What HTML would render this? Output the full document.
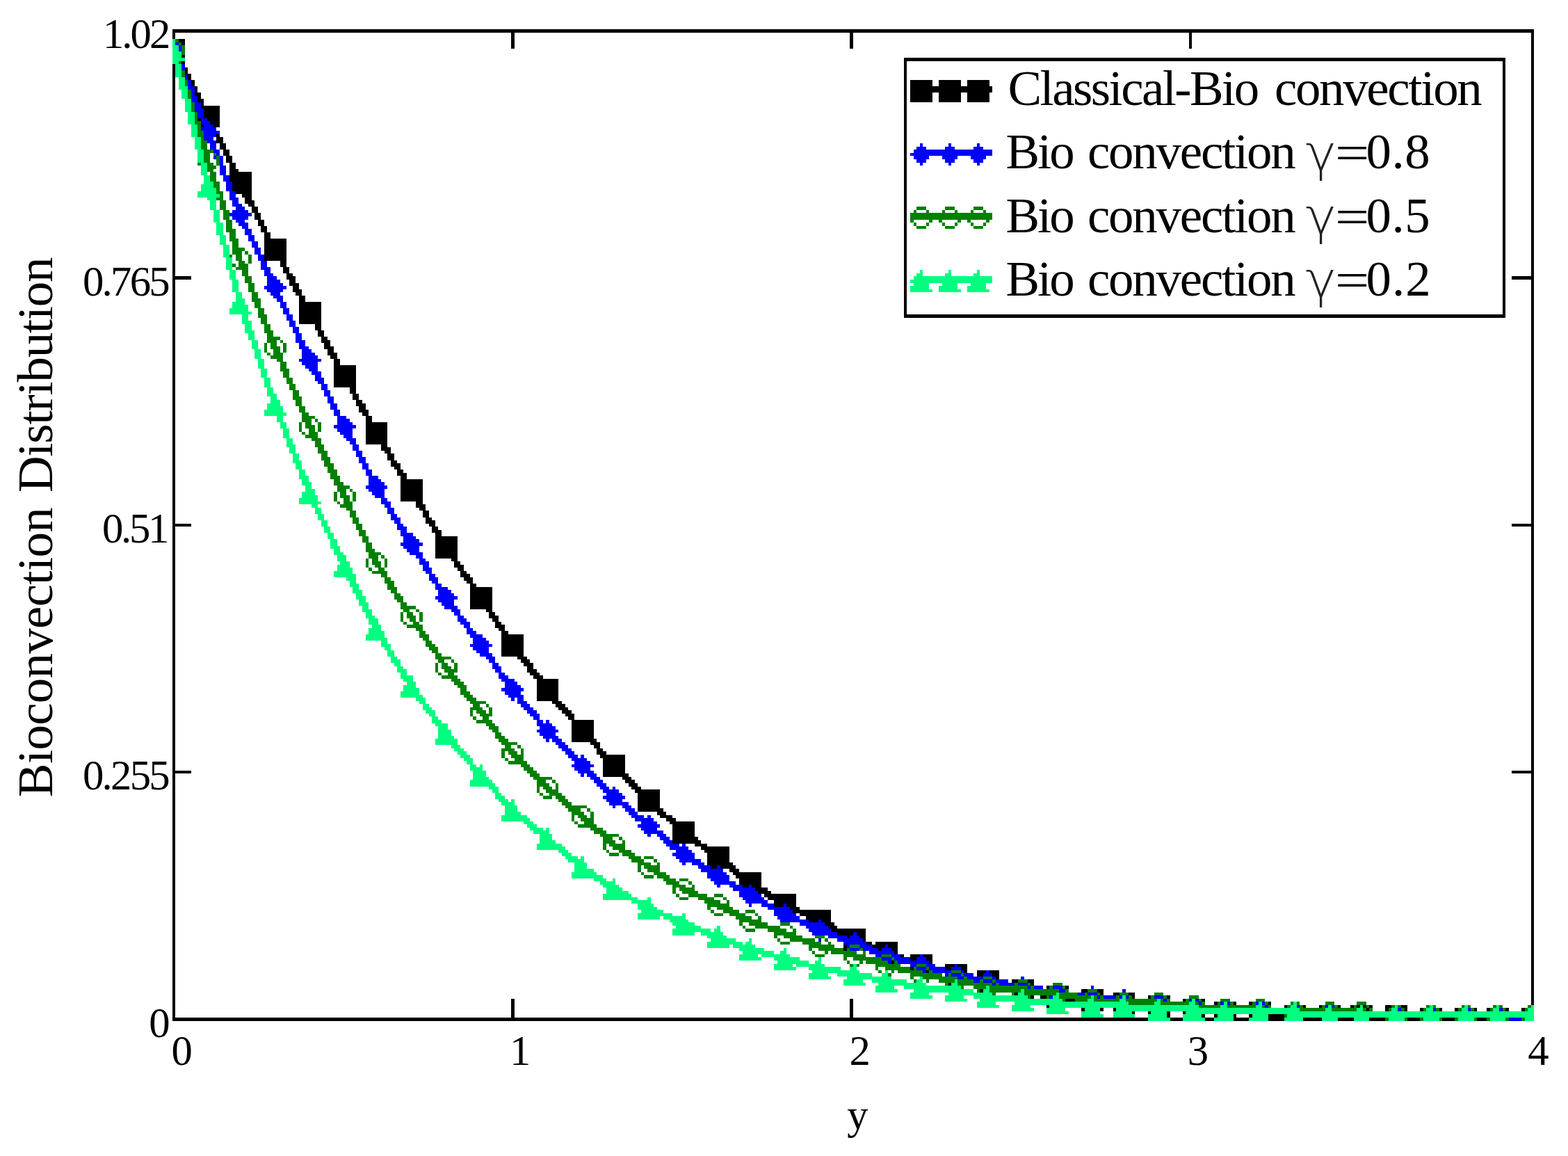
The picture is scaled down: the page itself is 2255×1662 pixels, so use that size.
<!DOCTYPE html>
<html lang="en">
<head>
<meta charset="utf-8">
<title>Bioconvection Distribution</title>
<style>
html,body{margin:0;padding:0;background:#fff;}
body{width:2255px;height:1662px;overflow:hidden;}
svg{display:block;position:absolute;left:0;top:0;}
.g path{shape-rendering:crispEdges;stroke:none;}
text{font-family:"Liberation Serif","DejaVu Serif",serif;fill:#000;white-space:pre;}
.sym{font-family:"DejaVu Sans Light","DejaVu Sans",sans-serif;font-weight:200;fill:#222;}
</style>
</head>
<body>
<svg width="2255" height="1662" viewBox="0 0 2255 1662">
<rect x="0" y="0" width="2255" height="1662" fill="#ffffff"/>
<g class="g">
<path fill="#000000" d="M248 42h1958v5h-1958zM248 47h4v9h-4zM257 56h9v5h-9zM261 61h5v4h-5zM735 47h5v23h-5zM1222 47h5v23h-5zM1710 47h4v23h-4zM261 79h5v4h-5zM1300 83h865v5h-865zM261 88h5v4h-5zM266 97h4v9h-4zM270 106h5v9h-5zM275 115h5v9h-5zM1309 115h32v9h-32zM1350 115h32v9h-32zM1391 115h32v9h-32zM280 124h4v9h-4zM1309 124h118v9h-118zM280 133h9v5h-9zM284 138h5v4h-5zM284 142h9v5h-9zM1309 133h32v14h-32zM1350 133h32v14h-32zM1391 133h32v14h-32zM289 147h4v5h-4zM289 152h27v4h-27zM293 156h23v14h-23zM284 170h5v4h-5zM298 170h18v4h-18zM302 174h14v5h-14zM289 179h4v4h-4zM307 179h9v4h-9zM311 193h5v4h-5zM311 197h10v9h-10zM316 206h9v9h-9zM321 215h9v9h-9zM325 224h9v10h-9zM330 234h9v9h-9zM330 243h13v4h-13zM330 247h32v14h-32zM334 261h28v14h-28zM339 275h23v4h-23zM348 279h14v5h-14zM352 284h10v4h-10zM352 288h14v5h-14zM357 293h9v4h-9zM362 297h9v9h-9zM366 306h9v10h-9zM371 316h9v9h-9zM375 325h9v9h-9zM380 334h9v9h-9zM380 343h32v32h-32zM403 375h9v9h-9zM407 384h9v9h-9zM248 92h4v305h-4zM412 393h9v4h-9zM2202 47h4v350h-4zM248 397h27v5h-27zM412 397h13v5h-13zM2174 397h32v5h-32zM416 402h9v5h-9zM416 407h14v4h-14zM421 411h9v5h-9zM421 416h13v4h-13zM425 420h9v5h-9zM430 425h9v9h-9zM1300 88h4v364h-4zM2161 88h4v364h-4zM1300 452h865v5h-865zM430 434h32v32h-32zM453 466h9v9h-9zM457 475h9v9h-9zM462 484h9v5h-9zM462 489h13v4h-13zM466 493h9v5h-9zM466 498h14v4h-14zM471 502h9v5h-9zM471 507h14v4h-14zM475 511h10v5h-10zM480 516h9v9h-9zM480 525h32v32h-32zM503 557h9v9h-9zM507 566h9v9h-9zM512 575h9v5h-9zM512 580h14v4h-14zM516 584h10v5h-10zM516 589h14v4h-14zM521 593h9v5h-9zM526 598h9v9h-9zM526 607h31v32h-31zM548 639h9v4h-9zM548 643h14v5h-14zM553 648h9v4h-9zM557 652h10v10h-10zM562 662h9v4h-9zM562 666h14v5h-14zM567 671h9v4h-9zM571 675h9v5h-9zM571 680h14v4h-14zM576 684h9v5h-9zM576 689h32v32h-32zM598 721h10v4h-10zM598 725h14v5h-14zM603 730h9v4h-9zM608 734h9v10h-9zM612 744h9v4h-9zM248 402h4v351h-4zM612 748h14v5h-14zM2202 402h4v351h-4zM248 753h27v4h-27zM617 753h9v4h-9zM2174 753h32v4h-32zM621 757h9v5h-9zM621 762h14v4h-14zM626 766h9v5h-9zM626 771h32v32h-32zM649 803h9v4h-9zM653 807h9v5h-9zM653 812h14v4h-14zM658 816h9v5h-9zM662 821h9v4h-9zM662 825h14v5h-14zM667 830h13v5h-13zM671 835h9v4h-9zM676 839h9v5h-9zM676 844h32v32h-32zM699 876h9v4h-9zM703 880h9v5h-9zM703 885h14v4h-14zM708 889h9v5h-9zM712 894h9v4h-9zM712 898h14v5h-14zM717 903h9v4h-9zM721 907h10v5h-10zM721 912h32v32h-32zM744 944h14v4h-14zM749 948h13v5h-13zM753 953h14v5h-14zM758 958h9v4h-9zM758 962h14v5h-14zM762 967h14v4h-14zM767 971h14v5h-14zM772 976h31v32h-31zM794 1008h14v4h-14zM799 1012h14v5h-14zM803 1017h14v4h-14zM808 1021h14v5h-14zM813 1026h13v4h-13zM817 1030h9v5h-9zM822 1035h32v27h-32zM822 1062h36v5h-36zM849 1067h14v4h-14zM854 1071h9v5h-9zM858 1076h9v4h-9zM858 1080h14v5h-14zM863 1085h36v5h-36zM248 757h4v351h-4zM2202 757h4v351h-4zM248 1108h27v4h-27zM867 1090h32v22h-32zM2174 1108h32v4h-32zM867 1112h37v5h-37zM895 1117h13v4h-13zM899 1121h14v5h-14zM904 1126h13v5h-13zM908 1131h14v4h-14zM913 1135h36v5h-36zM917 1140h32v22h-32zM917 1162h37v5h-37zM945 1167h13v5h-13zM949 1172h18v4h-18zM958 1176h14v5h-14zM963 1181h36v4h-36zM967 1185h32v18h-32zM967 1203h37v5h-37zM967 1208h41v5h-41zM999 1213h18v4h-18zM1008 1217h41v5h-41zM1013 1222h36v4h-36zM1017 1226h32v14h-32zM1017 1240h37v4h-37zM1022 1244h9v5h-9zM1036 1244h22v5h-22zM1049 1249h14v5h-14zM1054 1254h41v4h-41zM1058 1258h37v5h-37zM1063 1263h32v9h-32zM1068 1272h9v4h-9zM1081 1272h14v4h-14zM1086 1276h18v5h-18zM1090 1281h19v4h-19zM1099 1285h46v5h-46zM1104 1290h41v4h-41zM1113 1294h32v5h-32zM1113 1299h14v5h-14zM1131 1299h14v5h-14zM1136 1304h14v4h-14zM1140 1308h55v5h-55zM1150 1313h45v4h-45zM1159 1317h36v5h-36zM1163 1322h14v4h-14zM1181 1322h14v4h-14zM1186 1326h14v5h-14zM1191 1331h13v4h-13zM1195 1335h50v5h-50zM1204 1340h23v5h-23zM1232 1340h13v5h-13zM1218 1345h4v4h-4zM1236 1345h9v4h-9zM1241 1349h4v5h-4zM1245 1354h9v4h-9zM1259 1354h32v4h-32zM1254 1358h19v5h-19zM1277 1358h14v5h-14zM1213 1358h5v9h-5zM1263 1363h5v4h-5zM1282 1363h9v4h-9zM1286 1367h5v5h-5zM1295 1372h5v4h-5zM1309 1372h14v4h-14zM1327 1372h14v4h-14zM1309 1376h9v5h-9zM1332 1376h9v5h-9zM1282 1381h4v5h-4zM1336 1381h5v5h-5zM1359 1386h14v4h-14zM1377 1386h14v4h-14zM1309 1390h5v5h-5zM1359 1390h9v5h-9zM1382 1390h9v5h-9zM1332 1395h4v4h-4zM1386 1395h5v4h-5zM1405 1395h13v4h-13zM1423 1395h14v4h-14zM1405 1399h9v5h-9zM1427 1399h10v5h-10zM1432 1404h5v4h-5zM1455 1408h9v5h-9zM1478 1408h9v5h-9zM1364 1413h4v4h-4zM1482 1413h5v4h-5zM1505 1417h4v5h-4zM1532 1417h5v5h-5zM1409 1422h5v5h-5zM1555 1422h9v5h-9zM1578 1422h9v5h-9zM1459 1427h5v4h-5zM1582 1427h5v4h-5zM1601 1427h9v4h-9zM1623 1427h9v4h-9zM1482 1431h5v5h-5zM1496 1431h9v5h-9zM1628 1431h4v5h-4zM1651 1431h4v5h-4zM1678 1431h5v5h-5zM1532 1436h14v4h-14zM1701 1436h4v4h-4zM1728 1436h5v4h-5zM1746 1440h5v5h-5zM1774 1440h4v5h-4zM1796 1440h5v5h-5zM1824 1440h4v5h-4zM2202 1112h4v333h-4zM1505 1445h4v4h-4zM1847 1445h4v4h-4zM1874 1445h4v4h-4zM1897 1445h4v4h-4zM1924 1445h4v4h-4zM1942 1445h5v4h-5zM1951 1445h5v4h-5zM1960 1445h5v4h-5zM1969 1445h5v4h-5zM1992 1445h9v4h-9zM2015 1445h9v4h-9zM1555 1449h5v5h-5zM1582 1449h5v5h-5zM1601 1449h4v5h-4zM1965 1449h4v5h-4zM1992 1449h5v5h-5zM2020 1449h4v5h-4zM2042 1449h5v5h-5zM2070 1449h4v5h-4zM2092 1449h5v5h-5zM2120 1449h4v5h-4zM2138 1449h5v5h-5zM2165 1449h5v5h-5zM2188 1449h5v5h-5zM1628 1454h4v4h-4zM1651 1454h4v4h-4zM1701 1454h4v4h-4zM248 1112h4v351h-4zM735 1436h5v27h-5zM1222 1436h5v27h-5zM1678 1454h5v9h-5zM1728 1458h5v5h-5zM1746 1458h5v5h-5zM1774 1458h4v5h-4zM1796 1458h5v5h-5zM248 1463h1403v5h-1403zM1683 1463h18v5h-18zM1733 1463h13v5h-13zM1774 1463h22v5h-22zM1824 1458h23v10h-23zM1874 1463h27v5h-27zM1924 1463h23v5h-23zM1969 1463h23v5h-23zM2024 1463h18v5h-18zM2074 1463h18v5h-18zM2124 1463h14v5h-14z"/>
<path fill="#0000ff" d="M252 61h5v4h-5zM257 65h4v9h-4zM261 92h5v9h-5zM266 106h4v9h-4zM270 115h5v9h-5zM270 124h10v5h-10zM275 129h5v9h-5zM275 138h9v9h-9zM280 147h9v9h-9zM280 156h13v5h-13zM284 161h9v9h-9zM289 170h9v4h-9zM289 174h13v5h-13zM293 179h14v4h-14zM289 183h22v5h-22zM293 188h23v5h-23zM293 193h18v4h-18zM293 197h14v5h-14zM298 202h13v4h-13zM1323 206h4v5h-4zM1364 206h4v5h-4zM1405 206h4v5h-4zM302 206h9v9h-9zM1318 211h14v4h-14zM1359 211h14v4h-14zM1400 211h14v4h-14zM307 215h9v5h-9zM1314 215h113v5h-113zM311 220h5v4h-5zM1309 220h118v4h-118zM307 224h4v5h-4zM1314 224h22v5h-22zM1355 224h22v5h-22zM1396 224h22v5h-22zM1318 229h14v5h-14zM1359 229h14v5h-14zM1400 229h14v5h-14zM316 224h5v14h-5zM1323 234h4v4h-4zM1364 234h4v4h-4zM1405 234h4v4h-4zM316 238h9v14h-9zM321 252h9v9h-9zM325 261h9v14h-9zM330 275h9v9h-9zM330 284h13v4h-13zM334 288h9v5h-9zM334 293h14v4h-14zM339 297h13v5h-13zM334 302h23v4h-23zM330 306h32v5h-32zM334 311h23v5h-23zM339 316h13v4h-13zM343 320h14v5h-14zM348 325h9v4h-9zM352 329h10v9h-10zM357 338h9v9h-9zM362 347h9v9h-9zM366 356h9v10h-9zM371 366h9v9h-9zM375 375h9v9h-9zM375 384h14v4h-14zM380 388h9v5h-9zM380 393h13v4h-13zM384 397h14v5h-14zM384 402h19v5h-19zM384 407h23v4h-23zM380 411h32v5h-32zM384 416h23v4h-23zM389 420h14v5h-14zM393 425h14v4h-14zM398 429h9v5h-9zM403 434h9v9h-9zM407 443h9v9h-9zM412 452h9v9h-9zM416 461h9v9h-9zM421 470h9v9h-9zM425 479h9v10h-9zM425 489h14v4h-14zM430 493h9v5h-9zM430 498h14v4h-14zM434 502h14v5h-14zM434 507h19v4h-19zM434 511h23v5h-23zM430 516h32v4h-32zM434 520h23v5h-23zM439 525h18v5h-18zM444 530h13v4h-13zM448 534h14v5h-14zM453 539h9v4h-9zM453 543h13v5h-13zM457 548h9v4h-9zM462 552h9v9h-9zM466 561h9v9h-9zM471 570h9v10h-9zM475 580h10v9h-10zM480 589h9v9h-9zM485 598h13v4h-13zM485 602h18v5h-18zM485 607h22v4h-22zM480 611h32v5h-32zM485 616h22v5h-22zM489 621h18v4h-18zM494 625h13v5h-13zM498 630h14v4h-14zM503 634h9v5h-9zM507 639h9v9h-9zM512 648h9v9h-9zM516 657h10v9h-10zM521 666h9v9h-9zM526 675h9v9h-9zM530 684h14v5h-14zM530 689h18v4h-18zM530 693h23v5h-23zM526 698h31v5h-31zM530 703h23v4h-23zM535 707h18v5h-18zM539 712h14v4h-14zM548 716h9v5h-9zM548 721h14v4h-14zM553 725h9v5h-9zM557 730h10v9h-10zM562 739h9v5h-9zM562 744h14v4h-14zM567 748h9v5h-9zM571 753h9v4h-9zM571 757h14v5h-14zM576 762h9v4h-9zM576 766h18v5h-18zM580 771h18v4h-18zM580 775h23v5h-23zM576 780h32v5h-32zM580 785h23v4h-23zM585 789h18v5h-18zM589 794h19v4h-19zM598 798h10v5h-10zM603 803h9v4h-9zM603 807h14v5h-14zM608 812h9v4h-9zM608 816h13v5h-13zM612 821h9v4h-9zM617 825h9v5h-9zM617 830h13v5h-13zM621 835h9v4h-9zM626 839h9v5h-9zM626 844h18v4h-18zM630 848h19v5h-19zM630 853h23v4h-23zM626 857h32v5h-32zM630 862h23v4h-23zM635 866h18v5h-18zM639 871h19v5h-19zM649 876h13v4h-13zM653 880h9v5h-9zM658 885h9v4h-9zM658 889h13v5h-13zM662 894h14v4h-14zM667 898h9v5h-9zM671 903h9v4h-9zM671 907h14v5h-14zM676 912h18v5h-18zM680 917h19v4h-19zM680 921h23v5h-23zM676 926h32v4h-32zM680 930h23v5h-23zM685 935h18v4h-18zM690 939h18v5h-18zM699 944h13v4h-13zM703 948h9v5h-9zM708 953h9v5h-9zM708 958h13v4h-13zM712 962h9v5h-9zM717 967h9v4h-9zM717 971h14v5h-14zM721 976h19v4h-19zM726 980h18v5h-18zM726 985h23v4h-23zM721 989h32v5h-32zM726 994h23v5h-23zM731 999h22v4h-22zM735 1003h5v5h-5zM744 1003h9v5h-9zM744 1008h14v4h-14zM749 1012h13v5h-13zM753 1017h14v4h-14zM758 1021h14v5h-14zM762 1026h14v4h-14zM767 1030h9v5h-9zM772 1035h9v5h-9zM785 1035h5v5h-5zM772 1040h22v4h-22zM776 1044h23v5h-23zM772 1049h31v4h-31zM776 1053h23v5h-23zM781 1058h22v4h-22zM785 1062h5v5h-5zM794 1062h14v5h-14zM799 1067h14v4h-14zM803 1071h14v5h-14zM808 1076h14v4h-14zM813 1080h13v5h-13zM817 1085h14v5h-14zM835 1085h5v5h-5zM822 1090h22v4h-22zM826 1094h23v5h-23zM822 1099h32v4h-32zM826 1103h23v5h-23zM831 1108h23v4h-23zM835 1112h5v5h-5zM844 1112h14v5h-14zM849 1117h14v4h-14zM854 1121h13v5h-13zM858 1126h14v5h-14zM863 1131h13v4h-13zM881 1131h4v4h-4zM867 1135h23v5h-23zM872 1140h23v4h-23zM867 1144h32v5h-32zM872 1149h23v4h-23zM876 1153h28v5h-28zM881 1158h4v4h-4zM895 1158h13v4h-13zM899 1162h14v5h-14zM904 1167h13v5h-13zM908 1172h18v4h-18zM931 1172h5v4h-5zM913 1176h27v5h-27zM922 1181h23v4h-23zM917 1185h32v5h-32zM922 1190h23v4h-23zM926 1194h28v5h-28zM931 1199h5v4h-5zM945 1199h13v4h-13zM949 1203h14v5h-14zM954 1208h13v5h-13zM958 1213h19v4h-19zM981 1213h5v4h-5zM963 1217h27v5h-27zM972 1222h23v4h-23zM967 1226h32v5h-32zM972 1231h27v4h-27zM977 1235h31v5h-31zM981 1240h5v4h-5zM995 1240h18v4h-18zM1004 1244h18v5h-18zM1031 1244h5v5h-5zM1008 1249h32v5h-32zM1017 1254h28v4h-28zM1017 1258h32v5h-32zM1022 1263h27v4h-27zM1027 1267h31v5h-31zM1031 1272h5v4h-5zM1049 1272h19v4h-19zM1077 1272h4v4h-4zM1054 1276h32v5h-32zM1063 1281h27v4h-27zM1063 1285h32v5h-32zM1068 1290h31v4h-31zM1072 1294h32v5h-32zM1077 1299h4v5h-4zM1095 1299h18v5h-18zM1127 1299h4v5h-4zM1104 1304h32v4h-32zM1113 1308h27v5h-27zM1113 1313h32v4h-32zM1118 1317h32v5h-32zM1122 1322h41v4h-41zM1177 1322h4v4h-4zM1150 1326h36v5h-36zM1159 1331h32v4h-32zM1163 1335h32v5h-32zM1168 1340h36v5h-36zM1227 1340h5v5h-5zM1191 1345h27v4h-27zM1222 1345h14v4h-14zM1177 1349h4v5h-4zM1204 1349h37v5h-37zM1213 1354h32v4h-32zM1218 1358h4v5h-4zM1236 1358h18v5h-18zM1273 1358h4v5h-4zM1222 1363h14v4h-14zM1241 1363h22v4h-22zM1268 1363h14v4h-14zM1250 1367h36v5h-36zM1259 1372h9v4h-9zM1282 1372h13v4h-13zM1323 1372h4v4h-4zM1268 1376h14v5h-14zM1286 1376h23v5h-23zM1318 1376h14v5h-14zM1277 1381h5v5h-5zM1291 1381h45v5h-45zM1309 1386h9v4h-9zM1332 1386h13v4h-13zM1373 1386h4v4h-4zM1318 1390h14v5h-14zM1336 1390h23v5h-23zM1368 1390h14v5h-14zM1327 1395h5v4h-5zM1341 1395h27v4h-27zM1382 1395h4v4h-4zM1418 1395h5v4h-5zM1359 1399h5v5h-5zM1368 1399h14v5h-14zM1386 1399h14v5h-14zM1414 1399h13v5h-13zM1377 1404h9v4h-9zM1391 1404h23v4h-23zM1427 1404h5v4h-5zM1468 1404h5v4h-5zM1400 1408h9v5h-9zM1414 1408h13v5h-13zM1432 1408h18v5h-18zM1427 1413h5v4h-5zM1437 1413h22v4h-22zM1464 1413h14v4h-14zM1478 1417h4v5h-4zM1487 1417h13v5h-13zM1514 1417h14v5h-14zM1569 1417h4v5h-4zM1523 1422h9v5h-9zM1614 1422h5v5h-5zM1550 1427h10v4h-10zM1564 1427h14v4h-14zM1509 1431h5v5h-5zM1578 1431h4v5h-4zM1587 1431h18v5h-18zM1610 1431h4v5h-4zM1619 1431h4v5h-4zM1660 1431h13v5h-13zM1673 1436h5v4h-5zM1710 1436h4v4h-4zM1719 1436h5v4h-5zM1724 1440h4v5h-4zM1755 1440h5v5h-5zM1765 1440h4v5h-4zM1806 1440h4v5h-4zM1815 1440h4v5h-4zM1819 1445h5v4h-5zM1865 1445h4v4h-4zM1906 1445h4v4h-4zM1915 1445h4v4h-4zM2010 1449h5v5h-5zM2061 1449h4v5h-4zM2111 1449h4v5h-4zM2156 1449h5v5h-5zM2170 1463h18v5h-18z"/>
<path fill="#008000" d="M252 56h5v5h-5zM257 61h4v4h-4zM261 65h5v14h-5zM257 88h4v4h-4zM261 101h5v10h-5zM266 115h4v9h-4zM270 129h5v13h-5zM275 147h5v14h-5zM280 161h4v13h-4zM280 174h9v5h-9zM284 179h5v9h-5zM284 188h9v9h-9zM289 197h4v5h-4zM289 202h9v13h-9zM293 215h14v5h-14zM307 220h4v4h-4zM293 220h9v14h-9zM284 234h5v4h-5zM298 234h9v4h-9zM311 224h5v14h-5zM298 238h13v5h-13zM298 243h9v4h-9zM302 247h9v14h-9zM307 261h9v9h-9zM311 270h5v5h-5zM311 275h10v4h-10zM316 279h5v5h-5zM311 284h10v4h-10zM316 288h9v14h-9zM1318 297h14v5h-14zM1359 297h14v5h-14zM1400 297h14v5h-14zM1314 302h4v4h-4zM1332 302h4v4h-4zM1355 302h4v4h-4zM1373 302h4v4h-4zM1396 302h4v4h-4zM1414 302h4v4h-4zM321 302h9v14h-9zM1309 306h118v10h-118zM1309 316h5v4h-5zM1336 316h5v4h-5zM1350 316h5v4h-5zM1377 316h5v4h-5zM1391 316h5v4h-5zM1418 316h5v4h-5zM1314 320h4v5h-4zM1332 320h4v5h-4zM1355 320h4v5h-4zM1373 320h4v5h-4zM1396 320h4v5h-4zM1414 320h4v5h-4zM325 316h9v13h-9zM1318 325h14v4h-14zM1359 325h14v4h-14zM1400 325h14v4h-14zM325 329h14v5h-14zM330 334h9v9h-9zM330 343h13v4h-13zM334 347h9v9h-9zM334 356h18v5h-18zM334 361h14v5h-14zM352 361h5v5h-5zM330 366h4v4h-4zM339 366h9v9h-9zM343 375h9v4h-9zM357 366h5v13h-5zM334 379h5v5h-5zM343 379h14v5h-14zM339 384h18v4h-18zM348 388h9v9h-9zM352 397h10v10h-10zM357 407h9v13h-9zM362 420h9v9h-9zM362 429h13v5h-13zM366 434h9v9h-9zM371 443h9v9h-9zM371 452h13v5h-13zM375 457h9v9h-9zM380 466h9v9h-9zM380 475h13v4h-13zM384 479h9v5h-9zM384 484h19v5h-19zM384 489h14v4h-14zM403 489h4v4h-4zM389 493h9v5h-9zM389 498h14v4h-14zM380 493h4v14h-4zM393 502h10v5h-10zM407 493h5v14h-5zM384 507h5v4h-5zM393 507h14v4h-14zM389 511h18v5h-18zM398 516h9v4h-9zM403 520h9v10h-9zM403 530h13v4h-13zM407 534h9v9h-9zM412 543h9v9h-9zM416 552h9v9h-9zM421 561h9v9h-9zM421 570h13v5h-13zM425 575h9v9h-9zM430 584h9v9h-9zM434 593h10v5h-10zM434 598h19v4h-19zM434 602h14v5h-14zM453 602h4v5h-4zM439 607h9v4h-9zM439 611h14v5h-14zM430 607h4v14h-4zM444 616h9v5h-9zM457 607h5v14h-5zM434 621h5v4h-5zM444 621h13v4h-13zM439 625h18v5h-18zM448 630h14v4h-14zM453 634h9v5h-9zM453 639h13v4h-13zM457 643h9v5h-9zM457 648h14v4h-14zM462 652h9v5h-9zM462 657h13v5h-13zM466 662h9v4h-9zM466 666h14v5h-14zM471 671h9v4h-9zM471 675h14v5h-14zM475 680h10v4h-10zM475 684h14v5h-14zM480 689h9v4h-9zM480 693h14v5h-14zM485 698h18v5h-18zM485 703h13v4h-13zM503 703h4v4h-4zM489 707h9v5h-9zM489 712h14v4h-14zM480 707h5v14h-5zM494 716h9v5h-9zM507 707h5v14h-5zM485 721h4v4h-4zM494 721h13v4h-13zM489 725h18v5h-18zM498 730h9v4h-9zM503 734h9v10h-9zM507 744h9v9h-9zM512 753h9v9h-9zM516 762h10v9h-10zM521 771h9v9h-9zM526 780h9v9h-9zM526 789h13v5h-13zM530 794h18v4h-18zM530 798h14v5h-14zM548 798h5v5h-5zM535 803h9v4h-9zM535 807h13v5h-13zM526 803h4v13h-4zM539 812h9v4h-9zM553 803h4v13h-4zM530 816h5v5h-5zM544 816h9v5h-9zM535 821h22v4h-22zM548 825h9v5h-9zM553 830h9v5h-9zM553 835h14v4h-14zM557 839h10v5h-10zM557 844h14v4h-14zM562 848h9v5h-9zM567 853h9v4h-9zM567 857h13v5h-13zM571 862h9v4h-9zM576 866h9v5h-9zM576 871h22v5h-22zM580 876h9v4h-9zM598 876h5v4h-5zM585 880h9v5h-9zM585 885h13v4h-13zM576 880h4v14h-4zM589 889h9v5h-9zM603 880h5v14h-5zM580 894h5v4h-5zM594 894h9v4h-9zM585 898h23v5h-23zM598 903h10v4h-10zM603 907h9v5h-9zM603 912h14v5h-14zM608 917h9v4h-9zM612 921h9v5h-9zM612 926h14v4h-14zM617 930h13v5h-13zM621 935h9v4h-9zM626 939h9v5h-9zM626 944h23v4h-23zM630 948h9v5h-9zM649 948h4v5h-4zM635 953h9v5h-9zM635 958h14v4h-14zM653 953h5v9h-5zM626 953h4v14h-4zM639 962h19v5h-19zM630 967h5v4h-5zM644 967h9v4h-9zM635 971h23v5h-23zM649 976h13v4h-13zM653 980h14v5h-14zM658 985h13v4h-13zM662 989h9v5h-9zM662 994h14v5h-14zM667 999h13v4h-13zM671 1003h14v5h-14zM676 1008h23v4h-23zM680 1012h10v5h-10zM699 1012h4v5h-4zM676 1017h18v4h-18zM685 1021h14v5h-14zM703 1017h5v9h-5zM676 1021h4v9h-4zM690 1026h18v4h-18zM680 1030h5v5h-5zM694 1030h9v5h-9zM685 1035h23v5h-23zM699 1040h13v4h-13zM703 1044h14v5h-14zM708 1049h9v4h-9zM712 1053h9v5h-9zM712 1058h14v4h-14zM717 1062h14v5h-14zM721 1067h23v4h-23zM726 1071h9v5h-9zM744 1071h5v5h-5zM721 1076h19v4h-19zM731 1080h13v5h-13zM749 1076h4v9h-4zM721 1080h5v10h-5zM735 1085h18v5h-18zM726 1090h5v4h-5zM740 1090h13v4h-13zM731 1094h27v5h-27zM749 1099h13v4h-13zM753 1103h14v5h-14zM758 1108h14v4h-14zM762 1112h14v5h-14zM767 1117h27v4h-27zM772 1121h13v5h-13zM794 1121h5v5h-5zM772 1126h18v5h-18zM781 1131h13v4h-13zM799 1126h4v9h-4zM772 1131h4v9h-4zM785 1135h18v5h-18zM776 1140h5v4h-5zM790 1140h18v4h-18zM781 1144h13v5h-13zM799 1144h14v5h-14zM803 1149h14v4h-14zM808 1153h14v5h-14zM813 1158h31v4h-31zM817 1162h18v5h-18zM844 1162h5v5h-5zM822 1167h18v5h-18zM831 1172h13v4h-13zM849 1167h5v9h-5zM822 1172h4v9h-4zM835 1176h19v5h-19zM826 1181h5v4h-5zM840 1181h14v4h-14zM831 1185h27v5h-27zM849 1190h18v4h-18zM854 1194h18v5h-18zM863 1199h27v4h-27zM867 1203h14v5h-14zM890 1203h5v5h-5zM867 1208h18v5h-18zM895 1208h4v5h-4zM876 1213h23v4h-23zM867 1213h5v9h-5zM881 1217h18v5h-18zM872 1222h4v4h-4zM890 1222h18v4h-18zM876 1226h14v5h-14zM895 1226h18v5h-18zM904 1231h18v4h-18zM926 1231h14v4h-14zM908 1235h18v5h-18zM940 1235h5v5h-5zM917 1240h19v4h-19zM945 1240h4v4h-4zM926 1244h23v5h-23zM917 1244h5v10h-5zM931 1249h18v5h-18zM922 1254h4v4h-4zM940 1254h18v4h-18zM926 1258h14v5h-14zM945 1258h18v5h-18zM954 1263h18v4h-18zM977 1263h13v4h-13zM958 1267h19v5h-19zM990 1267h5v5h-5zM967 1272h19v4h-19zM995 1272h4v4h-4zM977 1276h22v5h-22zM967 1276h5v9h-5zM981 1281h23v4h-23zM972 1285h5v5h-5zM990 1285h27v5h-27zM1027 1285h13v5h-13zM977 1290h13v4h-13zM1004 1290h23v4h-23zM1040 1290h5v4h-5zM1013 1294h23v5h-23zM1045 1294h4v5h-4zM1017 1299h32v5h-32zM1017 1304h5v4h-5zM1031 1304h23v4h-23zM1022 1308h5v5h-5zM1040 1308h23v5h-23zM1072 1308h14v5h-14zM1027 1313h13v4h-13zM1049 1313h23v4h-23zM1086 1313h4v4h-4zM1058 1317h23v5h-23zM1090 1317h5v5h-5zM1063 1322h32v4h-32zM1063 1326h5v5h-5zM1077 1326h27v5h-27zM1122 1326h14v5h-14zM1068 1331h4v4h-4zM1086 1331h36v4h-36zM1136 1331h4v4h-4zM1072 1335h14v5h-14zM1104 1335h27v5h-27zM1140 1335h5v5h-5zM1113 1340h32v5h-32zM1113 1345h5v4h-5zM1127 1345h27v4h-27zM1172 1345h14v4h-14zM1118 1349h4v5h-4zM1136 1349h36v5h-36zM1186 1349h5v5h-5zM1122 1354h14v4h-14zM1154 1354h27v4h-27zM1191 1354h4v4h-4zM1163 1358h37v5h-37zM1222 1358h14v5h-14zM1163 1363h5v4h-5zM1177 1363h36v4h-36zM1218 1363h4v4h-4zM1236 1363h5v4h-5zM1168 1367h4v5h-4zM1186 1367h5v5h-5zM1195 1367h37v5h-37zM1241 1367h4v5h-4zM1172 1372h14v4h-14zM1213 1372h32v4h-32zM1268 1372h14v4h-14zM1213 1376h5v5h-5zM1227 1376h41v5h-41zM1282 1376h4v5h-4zM1218 1381h4v5h-4zM1236 1381h5v5h-5zM1245 1381h32v5h-32zM1286 1381h5v5h-5zM1222 1386h5v4h-5zM1232 1386h4v4h-4zM1259 1386h36v4h-36zM1318 1386h14v4h-14zM1259 1390h4v5h-4zM1273 1390h36v5h-36zM1314 1390h4v5h-4zM1332 1390h4v5h-4zM1263 1395h5v4h-5zM1282 1395h4v4h-4zM1291 1395h36v4h-36zM1336 1395h5v4h-5zM1368 1395h14v4h-14zM1277 1399h5v5h-5zM1309 1399h46v5h-46zM1364 1399h4v5h-4zM1382 1399h4v5h-4zM1309 1404h5v4h-5zM1327 1404h50v4h-50zM1386 1404h5v4h-5zM1414 1404h13v4h-13zM1314 1408h4v5h-4zM1332 1408h4v5h-4zM1350 1408h23v5h-23zM1377 1408h23v5h-23zM1409 1408h5v5h-5zM1427 1408h5v5h-5zM1464 1408h14v5h-14zM1359 1413h5v4h-5zM1377 1413h50v4h-50zM1432 1413h5v4h-5zM1459 1413h5v4h-5zM1478 1413h4v4h-4zM1514 1413h14v4h-14zM1382 1417h4v5h-4zM1400 1417h18v5h-18zM1423 1417h55v5h-55zM1482 1417h5v5h-5zM1509 1417h5v5h-5zM1528 1417h4v5h-4zM1405 1422h4v5h-4zM1423 1422h45v5h-45zM1473 1422h50v5h-50zM1532 1422h5v5h-5zM1564 1422h14v5h-14zM1427 1427h5v4h-5zM1455 1427h4v4h-4zM1473 1427h46v4h-46zM1523 1427h27v4h-27zM1560 1427h4v4h-4zM1578 1427h4v4h-4zM1610 1427h13v4h-13zM1660 1427h13v4h-13zM1478 1431h4v5h-4zM1505 1431h4v5h-4zM1523 1431h46v5h-46zM1573 1431h5v5h-5zM1582 1431h5v5h-5zM1605 1431h5v5h-5zM1623 1431h5v5h-5zM1655 1431h5v5h-5zM1673 1431h5v5h-5zM1710 1431h14v5h-14zM1528 1436h4v4h-4zM1546 1436h18v4h-18zM1573 1436h37v4h-37zM1619 1436h45v4h-45zM1669 1436h4v4h-4zM1678 1436h5v4h-5zM1705 1436h5v4h-5zM1724 1436h4v4h-4zM1755 1436h14v4h-14zM1806 1436h13v4h-13zM1623 1440h37v5h-37zM1669 1440h41v5h-41zM1719 1440h5v5h-5zM1728 1440h5v5h-5zM1751 1440h4v5h-4zM1769 1440h5v5h-5zM1801 1440h5v5h-5zM1819 1440h5v5h-5zM1856 1440h4v5h-4zM1865 1440h4v5h-4zM1906 1440h13v5h-13zM1951 1440h14v5h-14zM1724 1445h31v4h-31zM1765 1445h41v4h-41zM1815 1445h4v4h-4zM1824 1445h4v4h-4zM1851 1445h5v4h-5zM1869 1445h5v4h-5zM1901 1445h5v4h-5zM1919 1445h5v4h-5zM1947 1445h4v4h-4zM1965 1445h4v4h-4zM2001 1445h5v4h-5zM2010 1445h5v4h-5zM2051 1445h5v4h-5zM2061 1445h4v4h-4zM2102 1445h4v4h-4zM2111 1445h4v4h-4zM2147 1445h5v4h-5zM2156 1445h5v4h-5zM2197 1445h5v4h-5zM1869 1449h37v5h-37zM1915 1449h36v5h-36zM1960 1449h5v5h-5zM1969 1449h5v5h-5zM1997 1449h4v5h-4zM2015 1449h5v5h-5zM2047 1449h4v5h-4zM2065 1449h5v5h-5zM2097 1449h5v5h-5zM2115 1449h5v5h-5zM2143 1449h4v5h-4zM2161 1449h4v5h-4zM2193 1449h4v5h-4zM1847 1458h4v5h-4zM1992 1463h5v5h-5zM2020 1463h4v5h-4zM2042 1463h5v5h-5zM2070 1463h4v5h-4zM2092 1463h5v5h-5zM2120 1463h4v5h-4zM2138 1463h5v5h-5zM2165 1463h5v5h-5zM2188 1463h5v5h-5z"/>
<path fill="#00ff80" d="M248 56h4v9h-4zM248 65h9v9h-9zM248 74h13v9h-13zM248 83h18v5h-18zM248 88h9v4h-9zM252 92h9v19h-9zM257 111h9v13h-9zM257 124h13v5h-13zM261 129h9v13h-9zM266 142h9v19h-9zM270 161h10v18h-10zM275 179h9v18h-9zM280 197h9v18h-9zM284 215h9v19h-9zM289 234h9v18h-9zM293 252h9v9h-9zM293 261h14v4h-14zM289 265h18v5h-18zM289 270h22v5h-22zM284 275h27v4h-27zM284 279h32v5h-32zM298 284h13v4h-13zM302 288h9v14h-9zM307 302h9v18h-9zM311 320h10v18h-10zM316 338h9v14h-9zM321 352h9v18h-9zM325 370h9v18h-9zM1323 388h4v5h-4zM1364 388h4v5h-4zM1405 388h4v5h-4zM1318 393h9v4h-9zM1359 393h9v4h-9zM1400 393h9v4h-9zM330 388h9v14h-9zM1314 397h113v5h-113zM1309 402h118v5h-118zM1314 407h22v4h-22zM1355 407h22v4h-22zM1396 407h22v4h-22zM1309 411h27v5h-27zM1350 411h27v5h-27zM1391 411h27v5h-27zM334 402h9v18h-9zM1309 416h32v4h-32zM1350 416h32v4h-32zM1391 416h32v4h-32zM339 420h9v9h-9zM339 429h13v5h-13zM334 434h18v4h-18zM334 438h23v5h-23zM330 443h27v5h-27zM330 448h32v4h-32zM348 452h9v9h-9zM348 461h14v5h-14zM352 466h10v9h-10zM352 475h14v4h-14zM357 479h9v10h-9zM362 489h9v13h-9zM366 502h9v14h-9zM371 516h9v14h-9zM375 530h9v13h-9zM380 543h9v14h-9zM384 557h9v9h-9zM384 566h14v4h-14zM389 570h9v5h-9zM389 575h14v5h-14zM384 580h19v4h-19zM384 584h23v5h-23zM380 589h27v4h-27zM380 593h32v5h-32zM398 598h9v9h-9zM403 607h9v9h-9zM407 616h9v14h-9zM412 630h9v9h-9zM412 639h13v4h-13zM416 643h9v9h-9zM421 652h9v10h-9zM421 662h13v4h-13zM425 666h9v9h-9zM430 675h9v9h-9zM430 684h14v5h-14zM434 689h10v4h-10zM434 693h14v5h-14zM439 698h9v5h-9zM439 703h14v4h-14zM434 707h19v5h-19zM434 712h23v4h-23zM430 716h27v5h-27zM430 721h32v4h-32zM448 725h9v5h-9zM453 730h9v9h-9zM457 739h9v9h-9zM462 748h9v9h-9zM466 757h9v9h-9zM471 766h9v9h-9zM475 775h10v10h-10zM475 785h14v4h-14zM480 789h9v5h-9zM480 794h14v4h-14zM485 798h13v9h-13zM489 807h14v5h-14zM485 812h18v4h-18zM485 816h22v5h-22zM480 821h27v4h-27zM480 825h32v5h-32zM498 830h14v5h-14zM503 835h9v4h-9zM503 839h13v5h-13zM507 844h9v4h-9zM507 848h14v5h-14zM512 853h9v4h-9zM512 857h14v5h-14zM516 862h10v4h-10zM516 866h14v5h-14zM521 871h9v5h-9zM521 876h14v4h-14zM526 880h9v5h-9zM526 885h13v4h-13zM530 889h14v9h-14zM535 898h13v5h-13zM530 903h18v4h-18zM530 907h23v5h-23zM526 912h27v5h-27zM526 917h31v4h-31zM548 921h9v5h-9zM548 926h14v4h-14zM553 930h9v5h-9zM557 935h10v9h-10zM562 944h9v4h-9zM562 948h14v5h-14zM567 953h9v5h-9zM571 958h9v4h-9zM571 962h14v5h-14zM576 967h9v4h-9zM576 971h18v5h-18zM580 976h14v4h-14zM585 980h13v5h-13zM580 985h18v4h-18zM580 989h23v5h-23zM576 994h27v5h-27zM576 999h32v4h-32zM598 1003h14v5h-14zM603 1008h9v4h-9zM608 1012h9v5h-9zM608 1017h13v4h-13zM612 1021h14v5h-14zM617 1026h9v4h-9zM621 1030h9v5h-9zM621 1035h14v5h-14zM626 1040h18v4h-18zM630 1044h14v5h-14zM630 1049h19v9h-19zM630 1058h23v4h-23zM626 1062h32v9h-32zM649 1071h13v5h-13zM653 1076h14v4h-14zM658 1080h13v5h-13zM662 1085h14v5h-14zM667 1090h13v4h-13zM671 1094h9v5h-9zM676 1099h9v4h-9zM690 1099h4v4h-4zM676 1103h18v5h-18zM680 1108h19v9h-19zM680 1117h23v4h-23zM676 1121h32v5h-32zM676 1126h36v5h-36zM703 1131h14v4h-14zM708 1135h9v5h-9zM712 1140h9v4h-9zM712 1144h14v5h-14zM717 1149h14v4h-14zM735 1149h5v4h-5zM721 1153h19v5h-19zM726 1158h18v9h-18zM726 1167h23v5h-23zM721 1172h37v4h-37zM721 1176h41v5h-41zM753 1181h14v4h-14zM758 1185h14v5h-14zM762 1190h19v4h-19zM785 1190h5v4h-5zM767 1194h23v5h-23zM776 1199h18v9h-18zM776 1208h23v5h-23zM772 1213h36v4h-36zM772 1217h41v5h-41zM803 1222h14v4h-14zM808 1226h14v5h-14zM813 1231h18v4h-18zM835 1231h5v4h-5zM817 1235h23v5h-23zM826 1240h18v9h-18zM826 1249h28v5h-28zM822 1254h36v4h-36zM822 1258h45v5h-45zM854 1263h18v4h-18zM881 1263h4v4h-4zM863 1267h22v5h-22zM867 1272h23v4h-23zM872 1276h23v5h-23zM872 1281h32v4h-32zM867 1285h41v5h-41zM867 1290h50v4h-50zM931 1290h5v4h-5zM908 1294h28v5h-28zM917 1299h23v5h-23zM917 1304h28v4h-28zM922 1308h32v5h-32zM917 1313h50v4h-50zM981 1313h5v4h-5zM917 1317h32v5h-32zM954 1317h32v5h-32zM963 1322h27v4h-27zM967 1326h32v5h-32zM972 1331h36v4h-36zM1031 1331h5v4h-5zM967 1335h55v5h-55zM1027 1335h9v5h-9zM967 1340h32v5h-32zM1008 1340h32v5h-32zM1017 1345h28v4h-28zM1022 1349h36v5h-36zM1077 1349h4v5h-4zM1017 1354h51v4h-51zM1072 1354h9v4h-9zM1017 1358h32v5h-32zM1054 1358h32v5h-32zM1063 1363h36v4h-36zM1127 1363h4v4h-4zM1068 1367h45v5h-45zM1122 1367h9v5h-9zM1063 1372h27v4h-27zM1095 1372h41v4h-41zM1063 1376h32v5h-32zM1113 1376h37v5h-37zM1177 1376h4v5h-4zM1118 1381h45v5h-45zM1172 1381h9v5h-9zM1113 1386h27v4h-27zM1145 1386h41v4h-41zM1227 1386h5v4h-5zM1113 1390h32v5h-32zM1163 1390h46v5h-46zM1222 1390h10v5h-10zM1168 1395h68v4h-68zM1273 1395h4v4h-4zM1163 1399h28v5h-28zM1204 1399h50v5h-50zM1268 1399h9v5h-9zM1163 1404h32v4h-32zM1218 1404h64v4h-64zM1323 1404h4v4h-4zM1213 1408h28v5h-28zM1254 1408h50v5h-50zM1318 1408h9v5h-9zM1373 1408h4v5h-4zM1213 1413h32v4h-32zM1263 1413h69v4h-69zM1368 1413h9v4h-9zM1259 1417h27v5h-27zM1300 1417h82v5h-82zM1418 1417h5v5h-5zM1259 1422h32v5h-32zM1314 1422h86v5h-86zM1414 1422h9v5h-9zM1468 1422h5v5h-5zM1309 1427h27v4h-27zM1364 1427h63v4h-63zM1464 1427h9v4h-9zM1519 1427h4v4h-4zM1309 1431h32v5h-32zM1359 1431h27v5h-27zM1400 1431h78v5h-78zM1514 1431h9v5h-9zM1569 1431h4v5h-4zM1614 1431h5v5h-5zM1359 1436h32v4h-32zM1409 1436h119v4h-119zM1564 1436h9v4h-9zM1610 1436h9v4h-9zM1664 1436h5v4h-5zM1714 1436h5v4h-5zM1405 1440h27v5h-27zM1459 1440h164v5h-164zM1660 1440h9v5h-9zM1710 1440h9v5h-9zM1760 1440h5v5h-5zM1810 1440h5v5h-5zM1860 1440h5v5h-5zM1405 1445h32v4h-32zM1455 1445h27v4h-27zM1509 1445h215v4h-215zM1755 1445h10v4h-10zM1806 1445h9v4h-9zM1856 1445h9v4h-9zM1910 1445h5v4h-5zM1956 1445h4v4h-4zM2006 1445h4v4h-4zM2056 1445h5v4h-5zM2106 1445h5v4h-5zM2152 1445h4v4h-4zM2202 1445h4v4h-4zM1455 1449h32v5h-32zM1505 1449h27v5h-27zM1560 1449h22v5h-22zM1605 1449h264v5h-264zM1906 1449h9v5h-9zM1951 1449h9v5h-9zM2001 1449h9v5h-9zM2051 1449h10v5h-10zM2102 1449h9v5h-9zM2147 1449h9v5h-9zM2197 1449h9v5h-9zM1505 1454h32v4h-32zM1555 1454h27v4h-27zM1601 1454h27v4h-27zM1655 1454h23v4h-23zM1705 1454h501v4h-501zM1555 1458h32v5h-32zM1601 1458h31v5h-31zM1651 1458h27v5h-27zM1701 1458h27v5h-27zM1751 1458h23v5h-23zM1801 1458h23v5h-23zM1851 1458h355v5h-355zM1651 1463h32v5h-32zM1701 1463h32v5h-32zM1746 1463h28v5h-28zM1796 1463h28v5h-28zM1847 1463h27v5h-27zM1901 1463h23v5h-23zM1947 1463h22v5h-22zM1997 1463h23v5h-23zM2047 1463h23v5h-23zM2097 1463h23v5h-23zM2143 1463h22v5h-22zM2193 1463h13v5h-13z"/>
</g>
<g class="t">
<text><tspan x="148.00" y="69.30" font-size="60.74" letter-spacing="-3.000">1.02</tspan></text>
<text><tspan x="119.00" y="424.70" font-size="60.74" letter-spacing="-2.750">0.765</tspan></text>
<text><tspan x="147.00" y="780.00" font-size="60.74" letter-spacing="-3.333">0.51</tspan></text>
<text><tspan x="119.00" y="1135.30" font-size="60.74" letter-spacing="-2.750">0.255</tspan></text>
<text><tspan x="214.30" y="1490.70" font-size="60.74">0</tspan></text>
<text><tspan x="246.40" y="1531.30" font-size="60.74">0</tspan></text>
<text><tspan x="733.00" y="1531.30" font-size="60.74">1</tspan></text>
<text><tspan x="1221.40" y="1531.30" font-size="60.74">2</tspan></text>
<text><tspan x="1707.70" y="1531.30" font-size="60.74">3</tspan></text>
<text><tspan x="2197.20" y="1531.30" font-size="60.74">4</tspan></text>
<text><tspan x="1218.20" y="1622.80" font-size="60.74">y</tspan></text>
<text transform="rotate(-90)"><tspan x="-1146.00" y="74.90" font-size="72.89" letter-spacing="-0.700">Bioconvection </tspan><tspan x="-708.00" y="74.90" font-size="72.89" letter-spacing="-1.255">Distribution</tspan></text>
<text><tspan x="1449.50" y="151.30" font-size="72.89" letter-spacing="-2.583">Classical-Bio </tspan><tspan x="1833.00" y="151.30" font-size="72.89" letter-spacing="-2.333">convection</tspan></text>
<text><tspan x="1446.50" y="242.40" font-size="72.89" letter-spacing="-3.100">Bio </tspan><tspan x="1564.00" y="242.40" font-size="72.89" letter-spacing="-2.222">convection </tspan><tspan x="1877.50" y="245.00" font-size="71.0" class="sym" textLength="44.24" lengthAdjust="spacingAndGlyphs">γ</tspan><tspan x="1920.00" y="244.40" font-size="72.89" textLength="49.39" lengthAdjust="spacingAndGlyphs">=</tspan><tspan x="1964.50" y="242.40" font-size="72.89" letter-spacing="0.500">0.8</tspan></text>
<text><tspan x="1446.50" y="333.51" font-size="72.89" letter-spacing="-3.100">Bio </tspan><tspan x="1564.00" y="333.51" font-size="72.89" letter-spacing="-2.222">convection </tspan><tspan x="1877.50" y="336.11" font-size="71.0" class="sym" textLength="44.24" lengthAdjust="spacingAndGlyphs">γ</tspan><tspan x="1920.00" y="335.51" font-size="72.89" textLength="49.39" lengthAdjust="spacingAndGlyphs">=</tspan><tspan x="1964.50" y="333.51" font-size="72.89" letter-spacing="0.500">0.5</tspan></text>
<text><tspan x="1446.50" y="424.62" font-size="72.89" letter-spacing="-3.100">Bio </tspan><tspan x="1564.00" y="424.62" font-size="72.89" letter-spacing="-2.222">convection </tspan><tspan x="1877.50" y="427.22" font-size="71.0" class="sym" textLength="44.24" lengthAdjust="spacingAndGlyphs">γ</tspan><tspan x="1920.00" y="426.62" font-size="72.89" textLength="49.39" lengthAdjust="spacingAndGlyphs">=</tspan><tspan x="1964.50" y="424.62" font-size="72.89" letter-spacing="1.000">0.2</tspan></text>
</g>
</svg>
</body>
</html>
